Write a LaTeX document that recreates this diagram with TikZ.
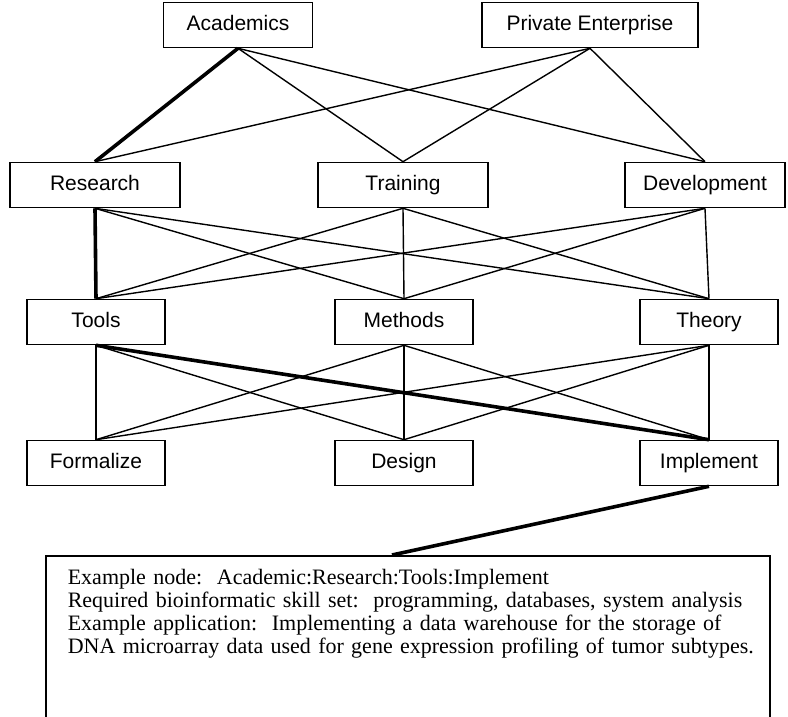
\documentclass[tikz,border=0pt]{standalone}
\usepackage{fontspec}
\setmainfont{Liberation Serif}
\setsansfont{Liberation Sans}
\usetikzlibrary{positioning}
\tikzset{
  area node/.style={draw,line width=1.6pt,minimum height=45pt,inner sep=0pt,
    text height=15pt,text depth=4pt,
    font=\sffamily\fontsize{21}{25}\selectfont},
  link line/.style={line width=1.4pt},
  path line/.style={line width=3.6pt},
  note node/.style={draw,line width=1.6pt,anchor=north west,align=left,
    inner xsep=22pt,inner ysep=13pt,text width=680pt,
    font=\fontsize{22}{23}\selectfont},
}
\begin{document}
\begin{tikzpicture}[x=1pt,y=-1pt]
  \clip (0,0) rectangle (788,717);
  % sectors
  \node[area node,minimum width=149pt] (academics) at (238,25) {Academics};
  \node[area node,minimum width=216pt] (enterprise) at (590,25) {Private Enterprise};
  % activities
  \node[area node,minimum width=170pt] (research) at (95,185) {Research};
  \node[area node,minimum width=170pt] (training) at (403,185) {Training};
  \node[area node,minimum width=160pt] (development) at (705,185) {Development};
  % products
  \node[area node,minimum width=138pt] (tools) at (96,322) {Tools};
  \node[area node,minimum width=138pt] (methods) at (404,322) {Methods};
  \node[area node,minimum width=138pt] (theory) at (709,322) {Theory};
  % tasks
  \node[area node,minimum width=138pt] (formalize) at (96,463) {Formalize};
  \node[area node,minimum width=138pt] (design) at (404,463) {Design};
  \node[area node,minimum width=138pt] (implement) at (709,463) {Implement};
  % example
  \node[note node] (note) at (45,555) {Example node:\ \ Academic:Research:Tools:Implement\\
    Required bioinformatic skill set:\ \ programming, databases, system analysis\\
    Example application:\ \ Implementing a data warehouse for the storage of\\
    \mbox{DNA microarray data used for gene expression profiling of tumor subtypes.}\\
    \strut\\ \strut};
  \coordinate (joint) at ([xshift=347pt]note.north west);
  \foreach \u in {academics,enterprise}
    \foreach \l in {research,training,development}
      \draw[link line] (\u.south) -- (\l.north);
  \foreach \u in {research,training,development}
    \foreach \l in {tools,methods,theory}
      \draw[link line] (\u.south) -- (\l.north);
  \foreach \u in {tools,methods,theory}
    \foreach \l in {formalize,design,implement}
      \draw[link line] (\u.south) -- (\l.north);
  % highlighted path
  \draw[path line] (academics.south) -- (research.north);
  \draw[path line] (research.south) -- (tools.north);
  \draw[path line] (tools.south) -- (implement.north);
  \draw[path line] (implement.south) -- (joint);
\end{tikzpicture}
\end{document}
